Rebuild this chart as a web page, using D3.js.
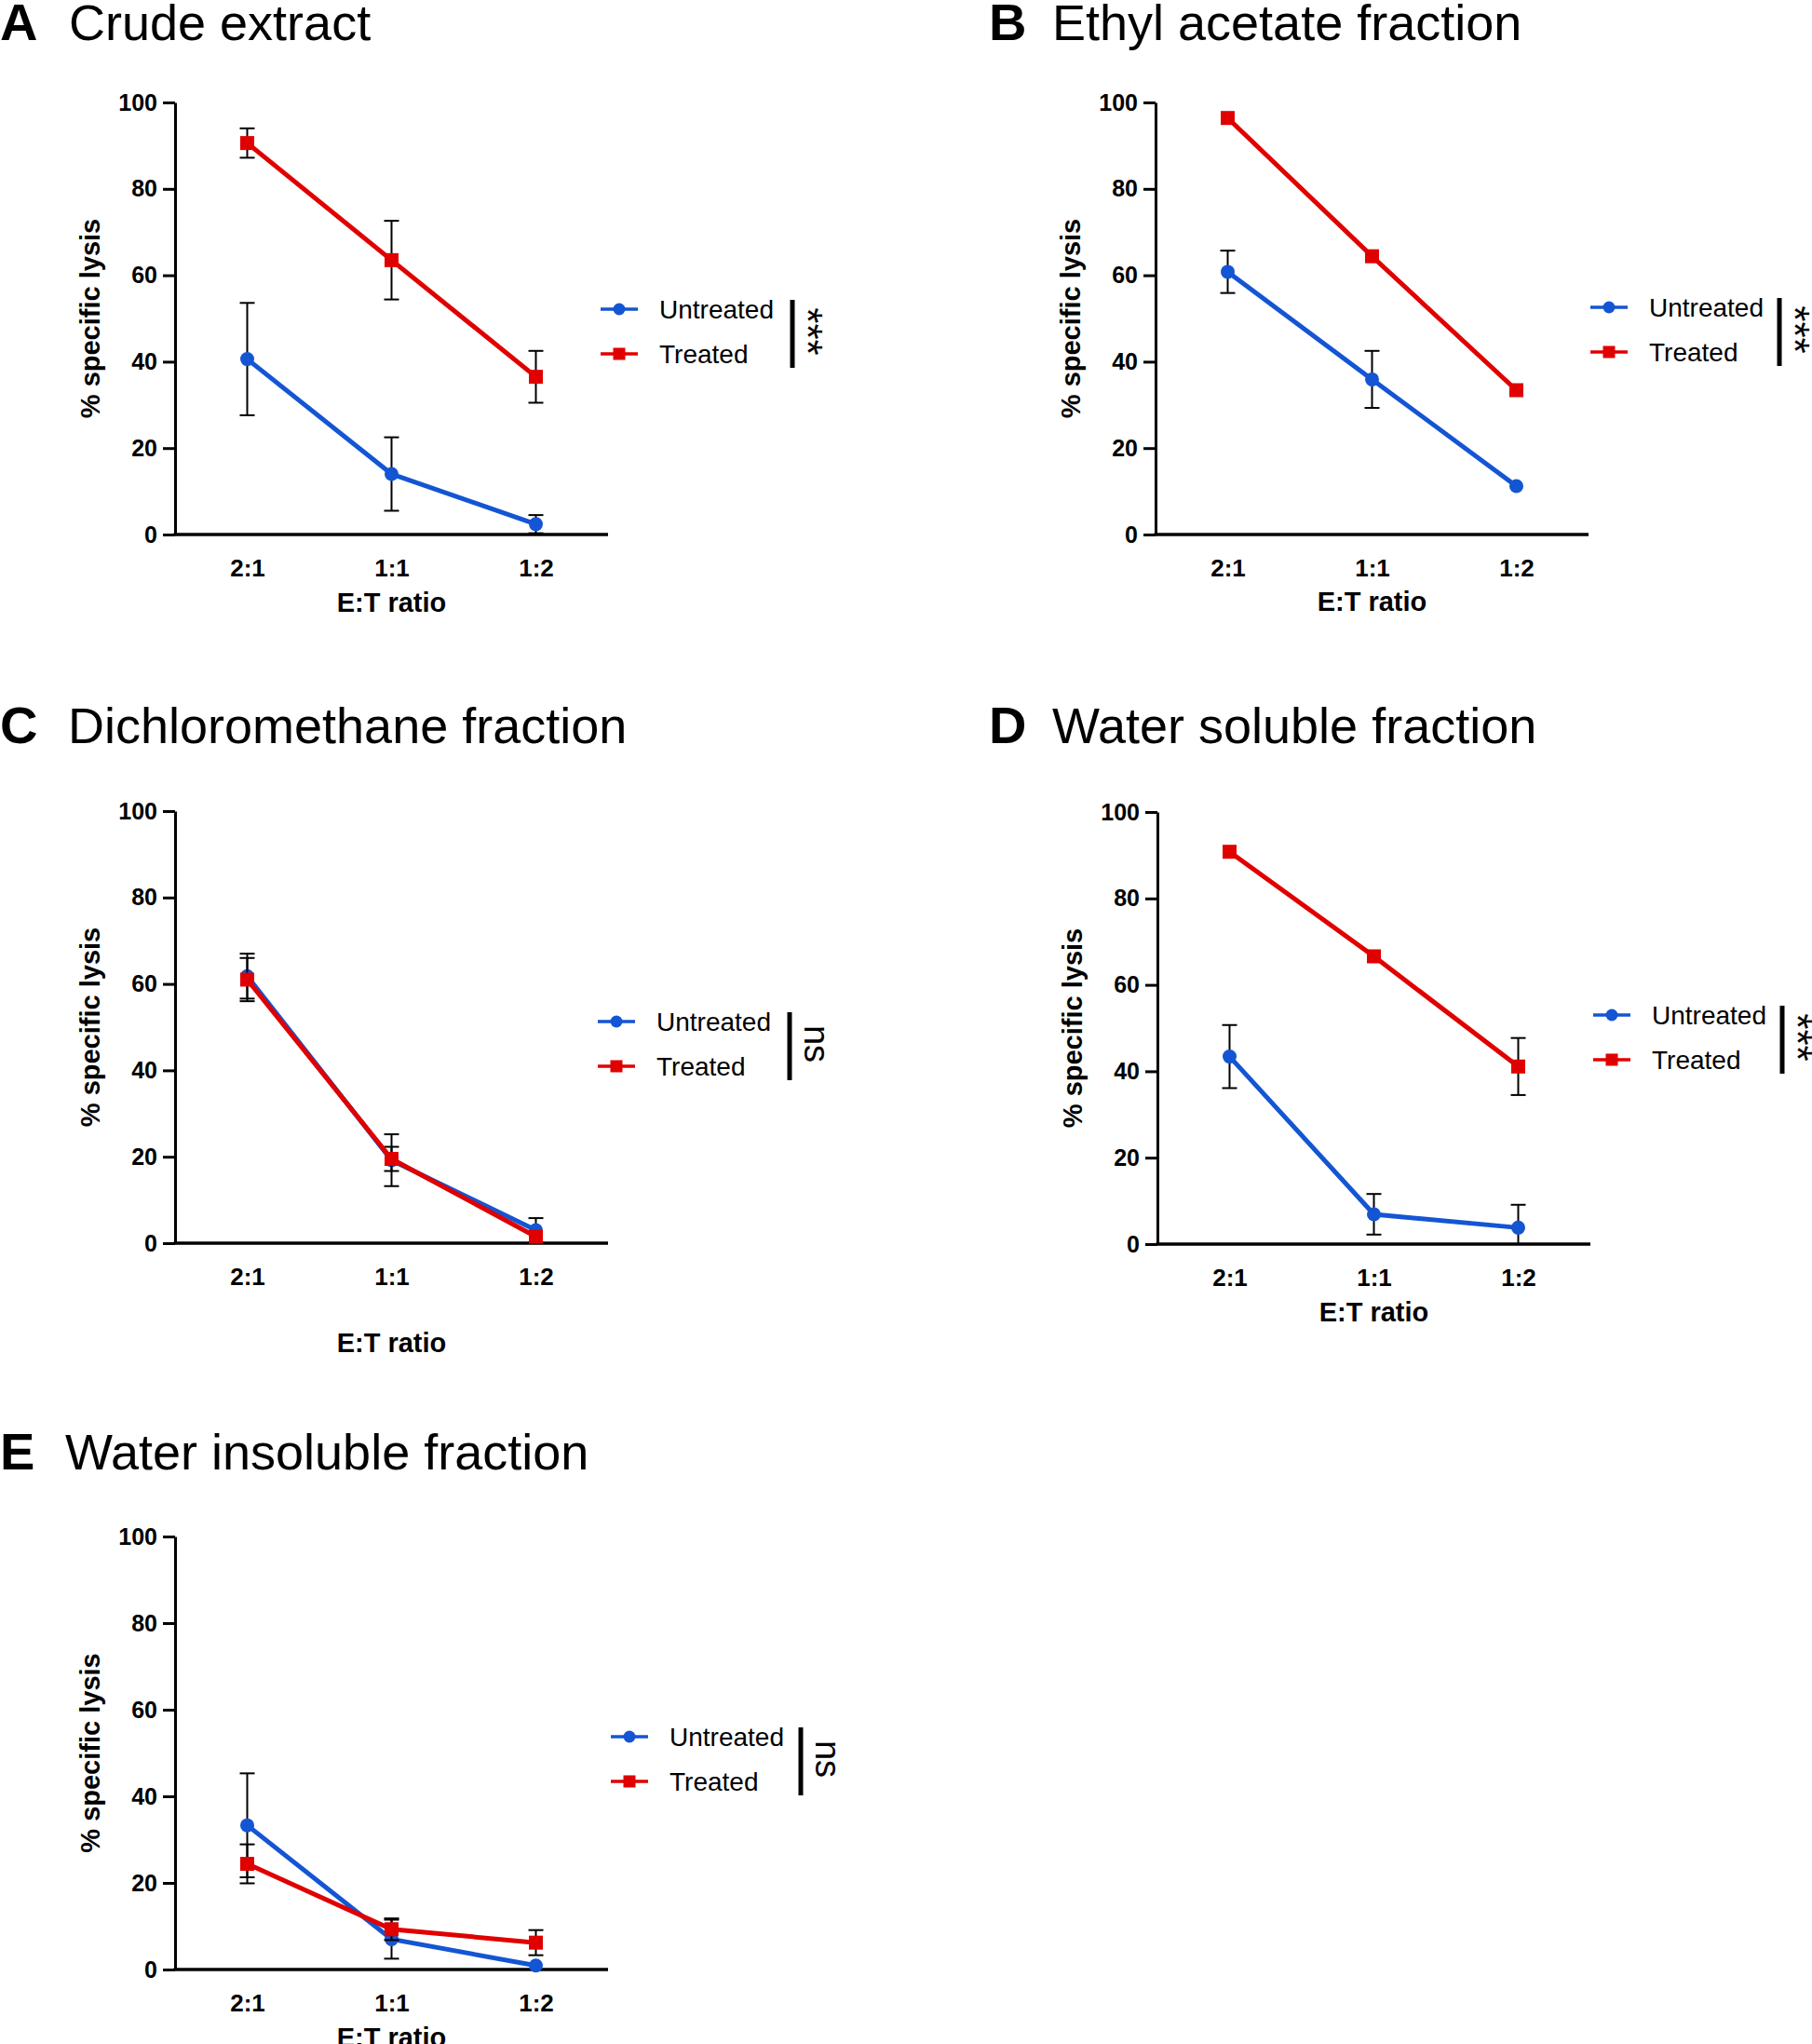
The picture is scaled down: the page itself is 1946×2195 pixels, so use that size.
<!DOCTYPE html>
<html>
<head>
<meta charset="utf-8">
<script src="https://cdn.jsdelivr.net/npm/d3@7"></script>
<style>
  body { margin: 0; background: #fff; }
  svg { display: block; font-family: "Liberation Sans", Arial, sans-serif; }
</style>
</head>
<body>
<svg width="1946" height="2195"></svg>
<script>
"use strict";

const ratios = ["2:1", "1:1", "1:2"];
const seriesNames = ["Untreated", "Treated"];
const panelLetters = ["A", "B", "C", "D", "E"];
const panelTitles = ["Crude extract", "Ethyl acetate fraction", "Dichloromethane fraction",
    "Water soluble fraction", "Water insoluble fraction"];
const significance = ["***", "***", "ns", "***", "ns"];
const yTicks = [0, 20, 40, 60, 80, 100];

// % specific lysis (mean) and error, one row per panel, columns follow ratios
const untreatedMean = [[40.6, 14.0, 2.4], [60.8, 35.9, 11.2], [61.8, 19.2, 3.0], [43.4, 6.9, 3.8], [33.3, 7.0, 0.9]];
const untreatedErr  = [[13.0, 8.5, 2.1], [4.9, 6.6, 0.8], [5.2, 6.0, 2.8], [7.3, 4.7, 5.3], [12.0, 4.5, 0.6]];
const treatedMean   = [[90.6, 63.5, 36.5], [96.4, 64.4, 33.4], [61.0, 19.5, 1.5], [90.8, 66.6, 41.1], [24.4, 9.3, 6.2]];
const treatedErr    = [[3.4, 9.1, 6.0], [1.0, 1.0, 1.0], [5.0, 2.8, 1.0], [1.0, 1.0, 6.6], [4.5, 2.5, 2.9]];

const BLUE = "#1455d3";
const RED = "#e00000";
const MARK = 7.5;

// where each panel sits on the page
const layout = [
    {lx: 0,    tx: 74,   ty: 43,   x0: 188,  x1: 653,  yTop: 110,  yBot: 574,  labelDy: 73,  legX: 645,  legY: 332,  barX: 851},
    {lx: 1062, tx: 1130, ty: 43,   x0: 1241, x1: 1706, yTop: 110,  yBot: 574,  labelDy: 72,  legX: 1708, legY: 330,  barX: 1911},
    {lx: 0,    tx: 73,   ty: 798,  x0: 188,  x1: 653,  yTop: 871,  yBot: 1335, labelDy: 107, legX: 642,  legY: 1097, barX: 848},
    {lx: 1062, tx: 1130, ty: 798,  x0: 1243, x1: 1708, yTop: 872,  yBot: 1336, labelDy: 73,  legX: 1711, legY: 1090, barX: 1914},
    {lx: 0,    tx: 70,   ty: 1578, x0: 188,  x1: 653,  yTop: 1650, yBot: 2115, labelDy: 73,  legX: 656,  legY: 1865, barX: 860}
];

window.addEventListener("load", () => layout.forEach((L, i) => drawPanel(i, L)));

function drawPanel(i, L) {
    const svg = d3.select("svg");
    const g = svg.append("g");

    // panel heading
    g.append("text").attr("x", L.lx).attr("y", L.ty)
        .attr("font-size", 56).attr("font-weight", "bold").text(panelLetters[i]);
    g.append("text").attr("x", L.tx).attr("y", L.ty)
        .attr("font-size", 54).text(panelTitles[i]);

    const x = d3.scalePoint().domain(ratios).range([L.x0, L.x1]).padding(0.5);
    const y = d3.scaleLinear().domain([0, 100]).range([L.yBot, L.yTop]);

    const yAxis = g.append("g")
        .attr("transform", `translate(${L.x0},0)`)
        .call(d3.axisLeft(y).tickValues(yTicks).tickSize(13).tickSizeOuter(0).tickPadding(6));
    yAxis.selectAll("path, line").attr("stroke", "#000").attr("stroke-width", 3);
    yAxis.selectAll("text").attr("font-size", 25).attr("font-weight", "bold")
        .attr("font-family", "'Liberation Sans', Arial, sans-serif").attr("fill", "#000");

    const xAxis = g.append("g")
        .attr("transform", `translate(0,${L.yBot})`)
        .call(d3.axisBottom(x).tickSize(0).tickSizeOuter(0).tickPadding(27));
    xAxis.select("path").attr("stroke", "#000").attr("stroke-width", 3.5)
        .attr("d", `M${L.x0 - 1.5},0H${L.x1}`);
    xAxis.selectAll("text").attr("font-size", 26).attr("font-weight", "bold")
        .attr("font-family", "'Liberation Sans', Arial, sans-serif").attr("fill", "#000");

    g.append("text")
        .attr("transform", `translate(${L.x0 - 91},${(L.yTop + L.yBot) / 2}) rotate(-90)`)
        .attr("text-anchor", "middle").attr("dominant-baseline", "central")
        .attr("font-size", 29).attr("font-weight", "bold").text("% specific lysis");
    g.append("text")
        .attr("x", (L.x0 + L.x1) / 2).attr("y", L.yBot + L.labelDy)
        .attr("text-anchor", "middle").attr("dominant-baseline", "central")
        .attr("font-size", 29).attr("font-weight", "bold").text("E:T ratio");

    const series = [
        {name: seriesNames[0], color: BLUE, shape: "circle",
            pts: ratios.map((r, j) => ({r, m: untreatedMean[i][j], e: untreatedErr[i][j]}))},
        {name: seriesNames[1], color: RED, shape: "square",
            pts: ratios.map((r, j) => ({r, m: treatedMean[i][j], e: treatedErr[i][j]}))}
    ];

    const line = d3.line().x(d => x(d.r)).y(d => y(d.m));

    series.forEach(s => {
        const eb = g.append("g").attr("stroke", "#000").attr("stroke-width", 2);
        s.pts.forEach(d => {
            const lo = Math.max(0, d.m - d.e), hi = d.m + d.e;
            // like Prism: bars shorter than the symbol stay hidden
            if (y(d.m) - y(hi) <= MARK + 1) return;
            eb.append("line").attr("x1", x(d.r)).attr("x2", x(d.r)).attr("y1", y(lo)).attr("y2", y(hi));
            [lo, hi].forEach(v => eb.append("line")
                .attr("x1", x(d.r) - 8).attr("x2", x(d.r) + 8).attr("y1", y(v)).attr("y2", y(v)));
        });
        g.append("path").datum(s.pts)
            .attr("fill", "none").attr("stroke", s.color).attr("stroke-width", 5).attr("d", line);
        s.pts.forEach(d => drawMarker(g, s.shape, x(d.r), y(d.m), s.color, MARK));
    });

    // legend
    series.forEach((s, k) => {
        const ly = L.legY + k * 48;
        g.append("line").attr("x1", L.legX).attr("x2", L.legX + 40).attr("y1", ly).attr("y2", ly)
            .attr("stroke", s.color).attr("stroke-width", 3.5);
        drawMarker(g, s.shape, L.legX + 20, ly, s.color, 6.5);
        g.append("text").attr("x", L.legX + 63).attr("y", ly).attr("dominant-baseline", "central")
            .attr("font-size", 28).text(s.name);
    });
    g.append("line").attr("x1", L.barX).attr("x2", L.barX)
        .attr("y1", L.legY - 10).attr("y2", L.legY + 63)
        .attr("stroke", "#000").attr("stroke-width", 5);
    const sig = significance[i];
    const isStars = sig === "***";
    g.append("text")
        .attr("transform", `translate(${L.barX + (isStars ? 1 : 16)},${L.legY + 24}) rotate(90)`)
        .attr("text-anchor", "middle")
        .attr("font-size", isStars ? 44 : 38).text(sig);
}

function drawMarker(g, shape, cx, cy, color, size) {
    if (shape === "circle") {
        g.append("circle").attr("cx", cx).attr("cy", cy).attr("r", size).attr("fill", color);
    } else {
        g.append("rect").attr("x", cx - size).attr("y", cy - size)
            .attr("width", size * 2).attr("height", size * 2).attr("fill", color);
    }
}
</script>
</body>
</html>
